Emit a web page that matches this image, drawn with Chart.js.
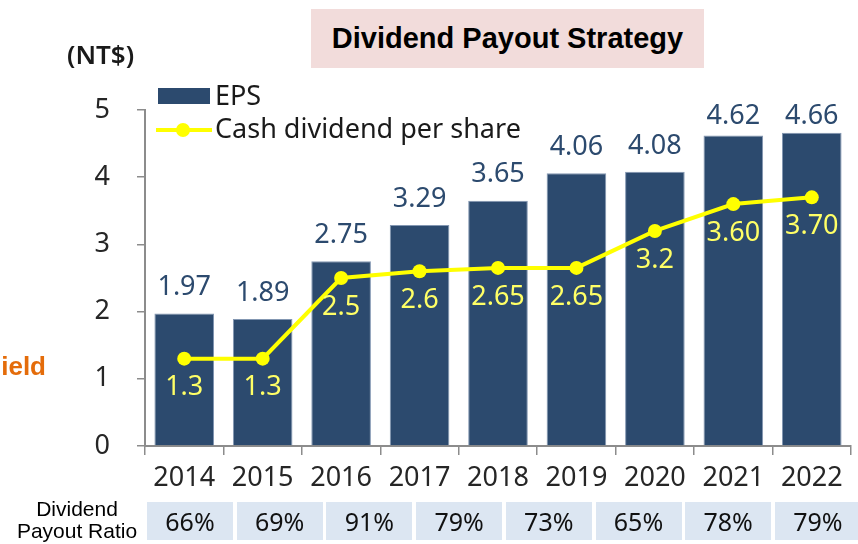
<!DOCTYPE html>
<html>
<head>
<meta charset="utf-8">
<script src="https://cdn.jsdelivr.net/npm/chart.js@4.4.1/dist/chart.umd.min.js"></script>
<style>
  html, body { margin: 0; padding: 0; background: #ffffff; }
  #wrap { position: relative; width: 858px; height: 544px; overflow: hidden; background: #fff; }
  #c { position: absolute; left: 0; top: 0; }
  .abs { position: absolute; white-space: nowrap; }
  #title { left: 311px; top: 9px; width: 393px; height: 59px; background: #F2DCDB;
    font: bold 29px "Liberation Sans", Arial, sans-serif; color: #000; text-align: center; line-height: 59px; }
  #unit { left: 67px; top: 38px; font: 600 26px "Noto Sans", sans-serif; color: #1a1a1a; line-height: 32px; }
  #yield { right: 812px; top: 350px; font: bold 26px "Liberation Sans", Arial, sans-serif; color: #E46C0A; line-height: 32px; }
  #rowlab { left: 9px; top: 498px; width: 136px; text-align: center; font: 21px "Liberation Sans", Arial, sans-serif; color: #000; line-height: 22px; }
  .cell { position: absolute; top: 502px; height: 38px; width: 86px; background: #DCE6F2;
    font: 25px "Noto Sans", sans-serif; color: #111; text-align: center; line-height: 38px; }
</style>
</head>
<body>
<div id="wrap">
  <canvas id="c" width="858" height="544"></canvas>
  <div id="title" class="abs">Dividend Payout Strategy</div>
  <div id="unit" class="abs">(NT$)</div>
  <div id="yield" class="abs">ield</div>
  <div id="rowlab" class="abs">Dividend<br>Payout Ratio</div>
  <div id="cells"></div>
</div>
<script>
// ---- data ----
const years = ['2014', '2015', '2016', '2017', '2018', '2019', '2020', '2021', '2022'];
const eps = [1.97, 1.89, 2.75, 3.29, 3.65, 4.06, 4.08, 4.62, 4.66];
const cashDividend = [1.3, 1.3, 2.5, 2.6, 2.65, 2.65, 3.2, 3.60, 3.70];
const cashLabels = ['1.3', '1.3', '2.5', '2.6', '2.65', '2.65', '3.2', '3.60', '3.70'];
const epsLabels = ['1.97', '1.89', '2.75', '3.29', '3.65', '4.06', '4.08', '4.62', '4.66'];
const payoutRatio = ['66%', '69%', '91%', '79%', '73%', '65%', '78%', '79%'];
const yTicks = [0, 1, 2, 3, 4, 5];

// ---- table cells ----
const cellsEl = document.getElementById('cells');
payoutRatio.forEach((t, i) => {
  const d = document.createElement('div');
  d.className = 'cell';
  d.style.left = (147 + i * 89.7) + 'px';
  d.textContent = t;
  cellsEl.appendChild(d);
});

const FONT = '"Noto Sans", sans-serif';
const NAVY = '#2C4A6E';
const YEL = '#FFFF00';

const labelPlugin = {
  id: 'valueLabels',
  afterDatasetsDraw(chart) {
    const ctx = chart.ctx;
    ctx.save();
    ctx.font = '27px ' + FONT;
    ctx.textAlign = 'center';
    ctx.textBaseline = 'middle';
    const barMeta = chart.getDatasetMeta(0);
    barMeta.data.forEach((el, i) => {
      const y = Math.max(el.y - 26, chart.chartArea.top + 6);
      ctx.fillStyle = NAVY;
      ctx.fillText(epsLabels[i], el.x, y);
    });
    const lineMeta = chart.getDatasetMeta(1);
    lineMeta.data.forEach((el, i) => {
      ctx.fillStyle = '#FFFF66';
      ctx.fillText(cashLabels[i], el.x, el.y + 29);
    });
    ctx.restore();
  }
};

const legendPlugin = {
  id: 'customLegend',
  afterDraw(chart) {
    const ctx = chart.ctx;
    const ds = chart.data.datasets;
    ctx.save();
    ctx.font = '27px ' + FONT;
    ctx.textBaseline = 'middle';
    ctx.textAlign = 'left';
    // EPS
    ctx.fillStyle = ds[0].backgroundColor;
    ctx.fillRect(158, 88, 52, 16);
    ctx.fillStyle = '#1a1a1a';
    ctx.fillText(ds[0].label, 215, 97);
    // Cash
    ctx.strokeStyle = ds[1].borderColor;
    ctx.lineWidth = 4;
    ctx.beginPath();
    ctx.moveTo(156, 130);
    ctx.lineTo(212, 130);
    ctx.stroke();
    ctx.fillStyle = ds[1].pointBackgroundColor;
    ctx.beginPath();
    ctx.arc(183, 130, 7, 0, Math.PI * 2);
    ctx.fill();
    ctx.fillStyle = '#1a1a1a';
    ctx.fillText(ds[1].label, 215, 130);
    ctx.restore();
  }
};

new Chart(document.getElementById('c'), {
  type: 'bar',
  data: {
    labels: years,
    datasets: [
      {
        label: 'EPS',
        data: eps,
        backgroundColor: NAVY,
        borderColor: '#8397B2',
        borderWidth: 1,
        barPercentage: 0.76,
        categoryPercentage: 1.0,
        order: 2
      },
      {
        type: 'line',
        label: 'Cash dividend per share',
        data: cashDividend,
        borderColor: YEL,
        backgroundColor: YEL,
        pointBackgroundColor: YEL,
        pointBorderWidth: 0,
        pointRadius: 7,
        borderWidth: 4,
        tension: 0,
        order: 1
      }
    ]
  },
  options: {
    responsive: false,
    animation: false,
    devicePixelRatio: 1,
    layout: { padding: { left: 0, right: 1, top: 110, bottom: 0 } },
    plugins: { legend: { display: false }, tooltip: { enabled: false }, title: { display: false } },
    scales: {
      y: {
        min: 0, max: 5,
        afterFit(s) { s.width = 145; },
        afterBuildTicks(s) { s.ticks = yTicks.map(v => ({ value: v })); },
        ticks: { font: { family: FONT, size: 27 }, color: '#262626', padding: 27 },
        grid: { drawOnChartArea: false, drawTicks: true, tickLength: 8, color: '#8c8c8c', lineWidth: 1.5 },
        border: { display: true, color: '#8c8c8c', width: 2 }
      },
      x: {
        afterFit(s) { s.height = 98; },
        ticks: { font: { family: FONT, size: 27 }, color: '#262626', padding: 7, maxRotation: 0 },
        grid: { offset: true, drawOnChartArea: false, drawTicks: true, tickLength: 9, color: '#8c8c8c', lineWidth: 1.5 },
        border: { display: true, color: '#8c8c8c', width: 2 }
      }
    }
  },
  plugins: [labelPlugin, legendPlugin]
});
</script>
</body>
</html>
